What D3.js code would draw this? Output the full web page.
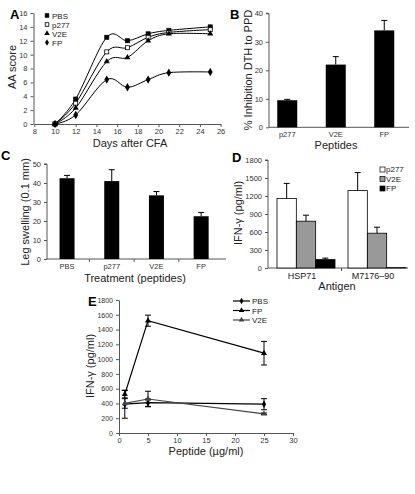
<!DOCTYPE html>
<html><head><meta charset="utf-8">
<script src="https://cdn.jsdelivr.net/npm/d3@7"></script>
<style>body{margin:0;background:#fff}svg{font-family:"Liberation Sans",Arial,sans-serif}</style>
</head><body><svg id="c" width="415" height="494"></svg>
<script>
// ---- Panel A data
const daysA = [10, 12, 15, 17, 19, 21, 25];
const aaPBS = [0, 3.6, 12.5, 12, 13, 13.5, 14];
const aaP277 = [0, 3.0, 10.4, 11, 12.5, 13.2, 13.6];
const aaV2E = [0, 2.3, 9, 9.6, 12, 13, 13];
const aaFP = [0, 1.3, 6.4, 5.3, 6.4, 7.4, 7.5];
const seriesA = ["PBS", "p277", "V2E", "FP"];
const ticksAx = [8, 10, 12, 14, 16, 18, 20, 22, 24, 26];
const ticksAy = [0, 2, 4, 6, 8, 10, 12, 14, 16];
// ---- Panel B data
const catB = ["p277", "V2E", "FP"];
const valB = [9.5, 22, 34];
const errB = [0.3, 2.8, 3.5];
const ticksBy = [0, 10, 20, 30, 40];
// ---- Panel C data
const catC = ["PBS", "p277", "V2E", "FP"];
const valC = [42.5, 41, 33.5, 22.5];
const errC = [1.5, 6, 2, 2];
const ticksCy = [0, 10, 20, 30, 40, 50];
// ---- Panel D data
const groupsD = ["HSP71", "M7176–90"];
const seriesD = ["p277", "V2E", "FP"];
const dP277 = [1160, 1290];
const dV2E = [780, 580];
const dFP = [140, 5];
const eP277 = [250, 300];
const eV2E = [100, 100];
const eFP = [25, 0];
const ticksDy = [0, 300, 600, 900, 1200, 1500, 1800];
// ---- Panel E data
const doseE = [1, 5, 25];
const ePBS = [390, 410, 390];
const ePBSerr = [190, 50, 75];
const eFPv = [525, 1520, 1080];
const eFPerr = [50, 75, 160];
const eV2Ev = [400, 460, 260];
const eV2Eerr = [65, 105, 10];
const ticksEx = [0, 5, 10, 15, 20, 25, 30];
const ticksEy = [0, 200, 400, 600, 800, 1000, 1200, 1400, 1600, 1800];

const svg = d3.select("#c");
const AX = "#555", TXT = "#333";
const fmtD = d3.format("d");

function styleAxis(g, fs) {
  g.selectAll("path,line").attr("stroke", AX).attr("stroke-width", 1);
  g.selectAll("text").attr("fill", TXT).style("font-size", fs + "px").style("font-family", '"Liberation Sans",Arial,sans-serif');
}
function yAxis(x, scale, ticks, fs) {
  const g = svg.append("g").attr("transform", `translate(${x},0)`)
    .call(d3.axisLeft(scale).tickValues(ticks).tickSize(3).tickPadding(3).tickFormat(fmtD));
  styleAxis(g, fs); return g;
}
function label(txt, x, y, fs, opts = {}) {
  const t = svg.append("text").attr("x", x).attr("y", y).text(txt)
    .style("font-size", fs + "px").attr("fill", opts.fill || "#222")
    .attr("text-anchor", opts.anchor || "middle");
  if (opts.rot) t.attr("transform", `rotate(-90,${x},${y})`);
  if (opts.bold) t.style("font-weight", "bold").style("font-family", '"Liberation Sans",Arial,sans-serif');
  return t;
}
function marker(g, type, x, y, s, fill) {
  s = s || 4;
  if (type === "sq" || type === "osq") {
    g.append("rect").attr("x", x - s / 2).attr("y", y - s / 2).attr("width", s).attr("height", s)
      .attr("fill", type === "osq" ? "#fff" : (fill || "#000")).attr("stroke", fill || "#000").attr("stroke-width", 0.8);
  } else if (type === "tri") {
    g.append("path").attr("d", d3.symbol(d3.symbolTriangle, s * s * 1.0)()).attr("transform", `translate(${x},${y})`).attr("fill", fill || "#000");
  } else if (type === "dia") {
    g.append("path").attr("d", d3.symbol(d3.symbolDiamond, s * s * 1.0)()).attr("transform", `translate(${x},${y})`).attr("fill", fill || "#000");
  }
}

// ================= Panel A
{
  const x = d3.scaleLinear().domain([8, 26]).range([34.3, 220.6]);
  const y = d3.scaleLinear().domain([0, 16]).range([124, 13]);
  const gx = svg.append("g").attr("transform", "translate(0,124)")
    .call(d3.axisBottom(x).tickValues(ticksAx).tickSize(3).tickPadding(2).tickSizeOuter(0).tickFormat(fmtD));
  styleAxis(gx, 7.5);
  const gy = svg.append("g").attr("transform", "translate(33.5,0)")
    .call(d3.axisLeft(y).tickValues(ticksAy).tickSize(3).tickPadding(3).tickSizeOuter(0).tickFormat(fmtD));
  styleAxis(gy, 7.5);
  const data = [aaPBS, aaP277, aaV2E, aaFP];
  const mk = ["sq", "osq", "tri", "dia"];
  const line = d3.line().x((d, i) => x(daysA[i])).y(d => y(d)).curve(d3.curveCatmullRom.alpha(0));
  const g = svg.append("g");
  data.forEach((s, k) => {
    g.append("path").attr("d", line(s)).attr("fill", "none").attr("stroke", "#000").attr("stroke-width", 1);
  });
  data.forEach((s, k) => {
    s.forEach((v, i) => marker(g, mk[k], x(daysA[i]), y(v), k === 3 ? 4.5 : 4));
  });
  seriesA.forEach((n, k) => {
    const ly = 16 + k * 9;
    marker(g, mk[k], 47, ly - 0.5, 3.6);
    label(n, 52, ly + 2.8, 8, { anchor: "start", fill: "#222" });
  });
  label("AA score", 16, 67, 11, { rot: true });
  label("Days after CFA", 130, 147, 11);
  label("A", 10, 19, 13, { anchor: "start", bold: true, fill: "#000" });
}

// ================= Panel B
{
  const x = d3.scaleBand().domain(catB).range([263, 408.5]);
  const y = d3.scaleLinear().domain([0, 40]).range([127.3, 13.3]);
  svg.append("line").attr("x1", 269).attr("x2", 409).attr("y1", 127.3).attr("y2", 127.3).attr("stroke", AX);
  const gy = yAxis(269, y, ticksBy, 7.5); gy.select(".domain").attr("d", `M-3,13.3H0V127.3`);
  const bw = 20;
  catB.forEach((c, i) => {
    const cx = x(c) + x.bandwidth() / 2;
    svg.append("rect").attr("x", cx - bw / 2).attr("y", y(valB[i])).attr("width", bw).attr("height", y(0) - y(valB[i])).attr("fill", "#000");
    svg.append("line").attr("x1", cx).attr("x2", cx).attr("y1", y(valB[i])).attr("y2", y(valB[i] + errB[i])).attr("stroke", "#000");
    svg.append("line").attr("x1", cx - 3).attr("x2", cx + 3).attr("y1", y(valB[i] + errB[i])).attr("y2", y(valB[i] + errB[i])).attr("stroke", "#000");
    label(c, cx, 137, 7.5, { fill: TXT });
  });
  label("% Inhibition DTH to PPD", 252, 70, 11, { rot: true });
  label("Peptides", 336, 149, 11);
  label("B", 230, 19, 13, { anchor: "start", bold: true, fill: "#000" });
}

// ================= Panel C
{
  const x = d3.scaleBand().domain(catC).range([44.7, 223.5]);
  const y = d3.scaleLinear().domain([0, 50]).range([259, 164]);
  svg.append("line").attr("x1", 47).attr("x2", 226).attr("y1", 259).attr("y2", 259).attr("stroke", AX);
  catC.slice(1).forEach(c => svg.append("line").attr("x1", x(c)).attr("x2", x(c)).attr("y1", 259).attr("y2", 262).attr("stroke", AX));
  const gy = yAxis(47, y, ticksCy, 7.5); gy.select(".domain").attr("d", `M-3,164H0V259`);
  const bw = 15;
  catC.forEach((c, i) => {
    const cx = x(c) + x.bandwidth() / 2;
    svg.append("rect").attr("x", cx - bw / 2).attr("y", y(valC[i])).attr("width", bw).attr("height", y(0) - y(valC[i])).attr("fill", "#000");
    svg.append("line").attr("x1", cx).attr("x2", cx).attr("y1", y(valC[i])).attr("y2", y(valC[i] + errC[i])).attr("stroke", "#000");
    svg.append("line").attr("x1", cx - 3).attr("x2", cx + 3).attr("y1", y(valC[i] + errC[i])).attr("y2", y(valC[i] + errC[i])).attr("stroke", "#000");
    label(c, cx, 269, 7.5, { fill: TXT });
  });
  label("Leg swelling (0.1 mm)", 29, 212, 11, { rot: true });
  label("Treatment (peptides)", 135, 282, 11);
  label("C", 1, 160, 13, { anchor: "start", bold: true, fill: "#000" });
}

// ================= Panel D
{
  const x0 = d3.scaleBand().domain(groupsD).range([270.5, 412.5]).paddingInner(0.183).paddingOuter(0.0915);
  const x1 = d3.scaleBand().domain(seriesD).range([0, x0.bandwidth()]);
  const y = d3.scaleLinear().domain([0, 1800]).range([268, 160]);
  svg.append("line").attr("x1", 268).attr("x2", 408).attr("y1", 268).attr("y2", 268).attr("stroke", AX);
  svg.append("line").attr("x1", 341.5).attr("x2", 341.5).attr("y1", 268).attr("y2", 271).attr("stroke", AX);
  const gy = yAxis(268, y, ticksDy, 7.5); gy.select(".domain").attr("d", `M-3,160H0V268`);
  const vals = [dP277, dV2E, dFP], errs = [eP277, eV2E, eFP], fills = ["#fff", "#999", "#000"];
  groupsD.forEach((gname, gi) => {
    seriesD.forEach((s, si) => {
      const v = vals[si][gi], e = errs[si][gi];
      const bx = x0(gname) + x1(s), bw = x1.bandwidth();
      svg.append("rect").attr("x", bx).attr("y", y(v)).attr("width", bw).attr("height", y(0) - y(v))
        .attr("fill", fills[si]).attr("stroke", "#000").attr("stroke-width", 0.8);
      if (e > 0) {
        const cx = bx + bw / 2;
        svg.append("line").attr("x1", cx).attr("x2", cx).attr("y1", y(v)).attr("y2", y(v + e)).attr("stroke", "#000");
        svg.append("line").attr("x1", cx - 3).attr("x2", cx + 3).attr("y1", y(v + e)).attr("y2", y(v + e)).attr("stroke", "#000");
      }
    });
    label(gname, x0(gname) + x0.bandwidth() / 2 - 4, 279, 9, { fill: "#222" });
  });
  seriesD.forEach((s, si) => {
    const ly = 170 + si * 9.5;
    svg.append("rect").attr("x", 380).attr("y", ly - 3).attr("width", 5).attr("height", 5).attr("fill", fills[si]).attr("stroke", "#000").attr("stroke-width", 0.7);
    label(s, 386, ly + 2, 8, { anchor: "start", fill: "#222" });
  });
  label("IFN-γ (pg/ml)", 242, 213, 11, { rot: true });
  label("Antigen", 337, 290, 11);
  label("D", 232, 162, 13, { anchor: "start", bold: true, fill: "#000" });
}

// ================= Panel E
{
  const x = d3.scaleLinear().domain([0, 30]).range([119, 293]);
  const y = d3.scaleLinear().domain([0, 1800]).range([433, 300]);
  const gx = svg.append("g").attr("transform", "translate(0,433)")
    .call(d3.axisBottom(x).tickValues(ticksEx).tickSize(3).tickPadding(2).tickSizeOuter(0).tickFormat(fmtD));
  styleAxis(gx, 7.5);
  const gy = svg.append("g").attr("transform", "translate(119,0)")
    .call(d3.axisLeft(y).tickValues(ticksEy).tickSize(3).tickPadding(3).tickSizeOuter(0).tickFormat(fmtD));
  styleAxis(gy, 7);
  const sers = [
    { n: "PBS", v: ePBS, e: ePBSerr, mk: "dia", c: "#000" },
    { n: "FP", v: eFPv, e: eFPerr, mk: "tri", c: "#000" },
    { n: "V2E", v: eV2Ev, e: eV2Eerr, mk: "tri", c: "#444" }
  ];
  const line = d3.line().x((d, i) => x(doseE[i])).y(d => y(d));
  const g = svg.append("g");
  sers.forEach(s => {
    g.append("path").attr("d", line(s.v)).attr("fill", "none").attr("stroke", s.c).attr("stroke-width", 1.2);
  });
  sers.forEach(s => {
    s.v.forEach((v, i) => {
      const cx = x(doseE[i]);
      g.append("line").attr("x1", cx).attr("x2", cx).attr("y1", y(v - s.e[i])).attr("y2", y(v + s.e[i])).attr("stroke", "#000");
      [v - s.e[i], v + s.e[i]].forEach(t => g.append("line").attr("x1", cx - 3).attr("x2", cx + 3).attr("y1", y(t)).attr("y2", y(t)).attr("stroke", "#000"));
      marker(g, s.mk, cx, y(v), 4, s.c);
    });
  });
  sers.forEach((s, k) => {
    const ly = 301 + k * 9.5;
    g.append("line").attr("x1", 233).attr("x2", 250).attr("y1", ly).attr("y2", ly).attr("stroke", s.c).attr("stroke-width", 1.2);
    marker(g, s.mk, 241.5, ly, 3.6, s.c);
    label(s.n, 252, ly + 3, 8, { anchor: "start", fill: "#222" });
  });
  label("IFN-γ (pg/ml)", 94, 366, 11, { rot: true });
  label("Peptide (µg/ml)", 206, 455, 11);
  label("E", 88, 306, 13, { anchor: "start", bold: true, fill: "#000" });
}
</script></body></html>
